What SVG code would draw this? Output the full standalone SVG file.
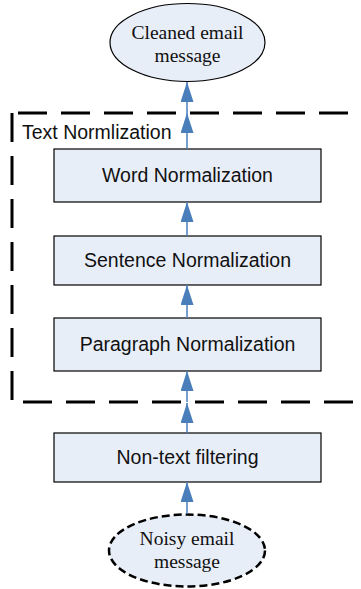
<svg xmlns="http://www.w3.org/2000/svg" width="361" height="589" viewBox="0 0 361 589">
<style>
.box{fill:#E8EEF8;stroke:#000;stroke-width:1.2}
.ell{fill:#E8EEF8;stroke:#000;stroke-width:1.2}
.sans{font-family:"Liberation Sans",Arial,sans-serif;font-size:19.5px;fill:#111;text-anchor:middle}
.serif{font-family:"Liberation Serif","Times New Roman",serif;font-size:19.5px;fill:#111;text-anchor:middle}
.conn{stroke:#4A7EBB;stroke-width:1.5;fill:none;marker-end:url(#ah)}
.dash{stroke:#000;stroke-width:3;fill:none;stroke-dasharray:29 14}
</style>
<defs>
<marker id="ah" viewBox="0 0 20 13" refX="20" refY="6.5" markerWidth="20" markerHeight="13" orient="auto" markerUnits="userSpaceOnUse">
<path d="M0,0 L20,6.5 L0,13 z" fill="#4A7EBB"/>
</marker>
</defs>
<g id="group-text-normalization">
<line class="dash" x1="18" y1="113" x2="370" y2="113"/>
<line class="dash" x1="12" y1="113" x2="12" y2="402"/>
<line class="dash" x1="23" y1="402" x2="370" y2="402"/>
<text x="22" y="139" style="font-family:'Liberation Sans',Arial,sans-serif;font-size:19.5px;fill:#111">Text Normlization</text>
</g>
<g id="cleaned">
<ellipse class="ell" cx="187.5" cy="42.5" rx="77.5" ry="39"/>
<text class="serif" x="187.5" y="39">Cleaned email</text>
<text class="serif" x="187.5" y="62">message</text>
</g>
<g id="word">
<rect class="box" x="54" y="149" width="267" height="53"/>
<text class="sans" x="187.5" y="182">Word Normalization</text>
</g>
<g id="sentence">
<rect class="box" x="54" y="236" width="267" height="49"/>
<text class="sans" x="187.5" y="267">Sentence Normalization</text>
</g>
<g id="paragraph">
<rect class="box" x="54" y="318" width="267" height="53"/>
<text class="sans" x="187.5" y="351">Paragraph Normalization</text>
</g>
<g id="nontext">
<rect class="box" x="54" y="433" width="267" height="49"/>
<text class="sans" x="187.5" y="464">Non-text filtering</text>
</g>
<g id="noisy">
<ellipse cx="187" cy="550.5" rx="78" ry="36" fill="#E8EEF8" stroke="#000" stroke-width="2.5" stroke-dasharray="8 4"/>
<text class="serif" x="187" y="545">Noisy email</text>
<text class="serif" x="187" y="568">message</text>
</g>
<g id="connectors">
<line class="conn" x1="187" y1="149" x2="187" y2="113"/>
<line class="conn" x1="187" y1="113" x2="187" y2="82"/>
<line class="conn" x1="187" y1="236" x2="187" y2="202"/>
<line class="conn" x1="187" y1="318" x2="187" y2="285"/>
<line class="conn" x1="187" y1="402" x2="187" y2="371"/>
<line class="conn" x1="187" y1="433" x2="187" y2="403"/>
<line class="conn" x1="187" y1="514" x2="187" y2="482"/>
</g>
</svg>
